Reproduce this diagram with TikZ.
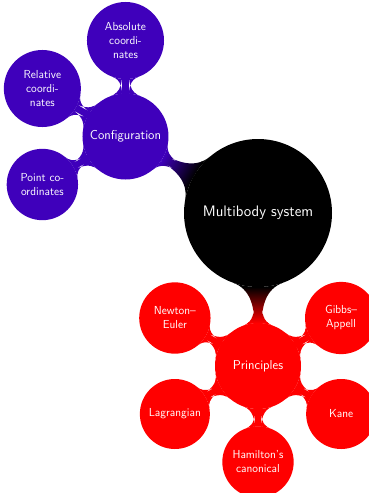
\documentclass[tikz,border=0pt]{standalone}
\usetikzlibrary{mindmap,calc}
\definecolor{configcol}{RGB}{63,0,187}
\definecolor{princcol}{RGB}{255,0,0}
\tikzset{
  bubble/.style={circle, inner sep=0pt, outer sep=0pt, align=center, text=white},
  rootbubble/.style={bubble, fill=black, minimum size=148pt, text width=140pt,
    font=\sffamily\fontsize{15.2}{18}\selectfont},
  mainbubble/.style={bubble, fill=#1, minimum size=86pt, text width=84pt,
    font=\sffamily\fontsize{12.9}{15}\selectfont},
  leafbubble/.style={bubble, fill=#1, minimum size=70pt, text width=68pt,
    font=\sffamily\fontsize{11.6}{14}\selectfont},
}
\begin{document}
\begin{tikzpicture}[x=1pt,y=1pt]
\useasboundingbox (0,0) rectangle (369,-493);
% centre and first level
\node[rootbubble] (root) at (258,-213) {Multibody system};
\node[mainbubble=configcol] (config) at ($(root)+(150:153)$) {Configuration};
\node[mainbubble=princcol] (princ) at ($(root)+(270:153)$) {Principles};
% configuration leaves
\node[leafbubble=configcol] (abs) at ($(config)+(90:96)$) {Absolute\\coordi-\\nates};
\node[leafbubble=configcol] (rel) at ($(config)+(150:96)$) {Relative\\coordi-\\nates};
\node[leafbubble=configcol] (pnt) at ($(config)+(210:96)$) {Point co-\\ordinates};
% principle leaves
\node[leafbubble=princcol] (newton) at ($(princ)+(150:96)$) {Newton--\\Euler};
\node[leafbubble=princcol] (gibbs) at ($(princ)+(30:96)$) {Gibbs--\\Appell};
\node[leafbubble=princcol] (lagr) at ($(princ)+(210:96)$) {Lagrangian};
\node[leafbubble=princcol] (kane) at ($(princ)+(330:96)$) {Kane};
\node[leafbubble=princcol] (ham) at ($(princ)+(270:96)$) {Hamilton's\\canonical};
% connections
\path (root) to[circle connection bar switch color=from (black) to (configcol)] (config);
\path (root) to[circle connection bar switch color=from (black) to (princcol)] (princ);
\foreach \leaf in {abs,rel,pnt}
  \path (config) to[circle connection bar switch color=from (configcol) to (configcol)] (\leaf);
\foreach \leaf in {newton,gibbs,lagr,kane,ham}
  \path (princ) to[circle connection bar switch color=from (princcol) to (princcol)] (\leaf);
\end{tikzpicture}
\end{document}
